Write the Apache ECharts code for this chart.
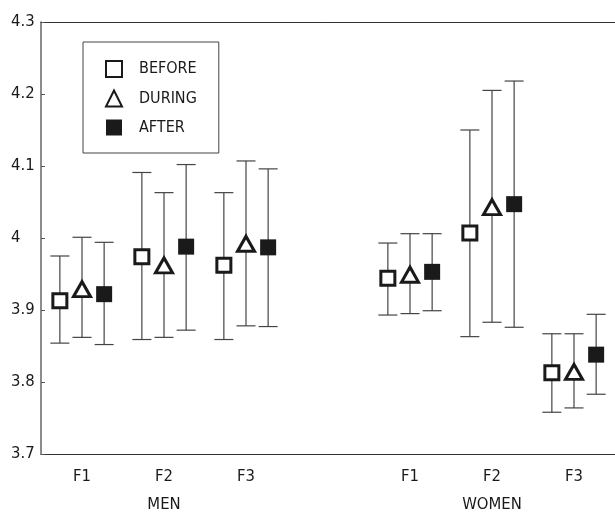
<!DOCTYPE html>
<html>
<head>
<meta charset="utf-8">
<script src="https://cdn.jsdelivr.net/npm/echarts@6/dist/echarts.min.js"></script>
<style>html,body{margin:0;padding:0;background:#fff}#c{width:615px;height:519px}</style>
</head>
<body>
<div id="c"></div>
<script>
// Categories (F1..F3 for MEN, a gap, F1..F3 for WOMEN)
const categories = ['F1', 'F2\nMEN', 'F3', '', 'F1', 'F2\nWOMEN', 'F3'];
const groupPos = [0.5, 1.5, 2.5, 4.5, 5.5, 6.5];
const seriesNames = ['BEFORE', 'DURING', 'AFTER'];
const yTicks = [3.7, 3.8, 3.9, 4.0, 4.1, 4.2, 4.3];

const before = [3.913, 3.974, 3.962, 3.944, 4.007, 3.813];
const beforeLow = [3.854, 3.859, 3.859, 3.893, 3.863, 3.758];
const beforeHigh = [3.975, 4.091, 4.063, 3.993, 4.150, 3.867];

const during = [3.929, 3.962, 3.992, 3.949, 4.043, 3.814];
const duringLow = [3.862, 3.862, 3.878, 3.895, 3.883, 3.764];
const duringHigh = [4.001, 4.063, 4.107, 4.006, 4.205, 3.867];

const after = [3.922, 3.988, 3.987, 3.953, 4.047, 3.838];
const afterLow = [3.852, 3.872, 3.877, 3.899, 3.876, 3.783];
const afterHigh = [3.994, 4.102, 4.096, 4.006, 4.218, 3.894];

const offsets = [-0.27, 0, 0.27];
const means = [before, during, after];
const lows = [beforeLow, duringLow, afterLow];
const highs = [beforeHigh, duringHigh, afterHigh];

const FONT = '"DejaVu Sans Condensed", "Liberation Sans Narrow", "Arial Narrow", "Liberation Sans", sans-serif';
const INK = '#1a1a1a';
const LINE = '#444';

const symbolStyles = [
  { symbol: 'rect', symbolSize: 14, itemStyle: { color: '#fff', borderColor: INK, borderWidth: 3, opacity: 1 } },
  { symbol: 'triangle', symbolSize: [17, 15], itemStyle: { color: '#fff', borderColor: INK, borderWidth: 3, opacity: 1 } },
  { symbol: 'rect', symbolSize: 16, itemStyle: { color: INK, borderColor: INK, borderWidth: 0, opacity: 1 } }
];

function errRender(params, api) {
  const x = api.value(0), lo = api.value(1), hi = api.value(2);
  const pLo = api.coord([x, lo]);
  const pHi = api.coord([x, hi]);
  const hw = 9.5;
  const st = { stroke: LINE, lineWidth: 1.2 };
  return {
    type: 'group',
    children: [
      { type: 'line', shape: { x1: pLo[0], y1: pLo[1], x2: pHi[0], y2: pHi[1] }, style: st },
      { type: 'line', shape: { x1: pLo[0] - hw, y1: pLo[1], x2: pLo[0] + hw, y2: pLo[1] }, style: st },
      { type: 'line', shape: { x1: pHi[0] - hw, y1: pHi[1], x2: pHi[0] + hw, y2: pHi[1] }, style: st }
    ]
  };
}

const series = [];
seriesNames.forEach((name, s) => {
  series.push({
    type: 'custom',
    name: name + '_err',
    xAxisIndex: 2,
    yAxisIndex: 0,
    renderItem: errRender,
    z: 2,
    silent: true,
    data: groupPos.map((g, i) => [g + offsets[s], lows[s][i], highs[s][i]])
  });
});
seriesNames.forEach((name, s) => {
  series.push(Object.assign({
    type: 'scatter',
    name: name,
    xAxisIndex: 2,
    yAxisIndex: 0,
    z: 5,
    data: groupPos.map((g, i) => [g + offsets[s], means[s][i]])
  }, symbolStyles[s]));
});

const chart = echarts.init(document.getElementById('c'), null, { renderer: 'canvas' });
chart.setOption({
  animation: false,
  backgroundColor: '#fff',
  textStyle: { fontFamily: FONT },
  grid: { left: 41, top: 22, width: 579, height: 440, containLabel: false },
  legend: {
    data: seriesNames,
    orient: 'vertical',
    left: 83,
    top: 42,
    padding: [18, 22, 17, 22],
    itemGap: 11.5,
    itemWidth: 16,
    itemHeight: 16,
    borderColor: '#444',
    borderWidth: 1,
    backgroundColor: '#fff',
    selectedMode: false,
    textStyle: { fontFamily: FONT, fontSize: 16, color: INK, lineHeight: 17, padding: [0, 0, 0, 12] }
  },
  xAxis: [
    {
      type: 'category',
      data: categories,
      position: 'bottom',
      boundaryGap: true,
      axisLine: { lineStyle: { color: '#333', width: 1 } },
      axisTick: { inside: true, length: 4, lineStyle: { color: '#333' } },
      axisLabel: { fontFamily: FONT, fontSize: 16.5, color: INK, margin: 9, lineHeight: 28, interval: 0 },
      splitLine: { show: false }
    },
    {
      type: 'category',
      data: categories,
      position: 'top',
      boundaryGap: true,
      axisLine: { lineStyle: { color: '#333', width: 1 } },
      axisTick: { inside: true, length: 4, lineStyle: { color: '#333' } },
      axisLabel: { show: false },
      splitLine: { show: false }
    },
    {
      type: 'value',
      min: 0,
      max: 7,
      show: false
    }
  ],
  yAxis: [
    {
      type: 'value',
      min: yTicks[0],
      max: yTicks[yTicks.length - 1],
      interval: 0.1,
      axisLine: { show: true, lineStyle: { color: '#666', width: 1.5 } },
      axisTick: { show: true, inside: true, length: 4, lineStyle: { color: '#555' } },
      axisLabel: {
        fontFamily: FONT, fontSize: 16.5, color: INK, align: 'left', margin: 30,
        formatter: v => String(+(+v).toFixed(1))
      },
      splitLine: { show: false }
    }
  ],
  series: series
});
</script>
</body>
</html>
